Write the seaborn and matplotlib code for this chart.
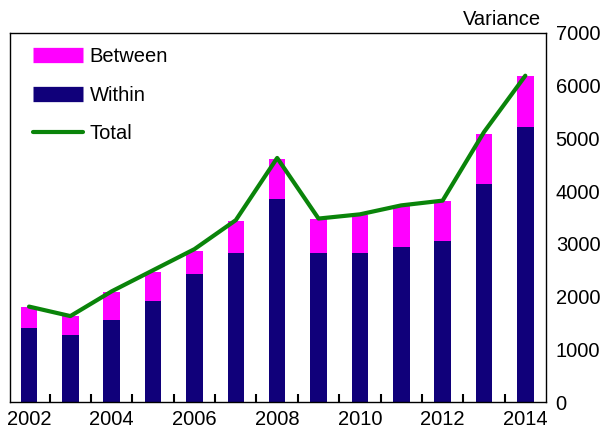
import numpy as np
import pandas as pd
import matplotlib
matplotlib.use("Agg")
import matplotlib.pyplot as plt
from matplotlib.lines import Line2D
import seaborn as sns

# Data
years = [2002, 2003, 2004, 2005, 2006, 2007, 2008, 2009, 2010, 2011, 2012, 2013, 2014]
within = [1410, 1270, 1560, 1920, 2430, 2830, 3850, 2830, 2830, 2940, 3050, 4130, 5220]
between = [390, 360, 520, 550, 440, 600, 760, 640, 720, 780, 760, 950, 970]
total = [1810, 1630, 2100, 2500, 2900, 3450, 4630, 3480, 3560, 3730, 3820, 5120, 6190]
year_labels = ["2002", "", "2004", "", "2006", "", "2008", "", "2010", "", "2012", "", "2014"]

col_between = "#FF00FF"
col_within = "#10007A"
col_total = "#0A840A"

df = pd.DataFrame({"year": years, "within": within, "between": between, "total": total})
df["stack"] = df["within"] + df["between"]
df["pos"] = np.arange(len(df))

sns.set_style("ticks")
plt.rcParams["font.family"] = ["Liberation Sans", "DejaVu Sans"]
plt.rcParams["text.color"] = "black"
plt.rcParams["xtick.color"] = "black"
plt.rcParams["ytick.color"] = "black"
plt.rcParams["axes.axisbelow"] = False
fs = 14.5

fig = plt.figure(figsize=(6.14, 4.36), dpi=100)
ax = fig.add_axes([10 / 614, 34 / 436, 536 / 614, 369 / 436])

# stacked bars: full stack in magenta, within drawn over it
sns.barplot(data=df, x="pos", y="stack", color=col_between, width=0.4,
            saturation=1, native_scale=True, linewidth=0, ax=ax)
sns.barplot(data=df, x="pos", y="within", color=col_within, width=0.4,
            saturation=1, native_scale=True, linewidth=0, ax=ax)
sns.lineplot(data=df, x="pos", y="total", color=col_total, linewidth=3, ax=ax)

ax.set_xlim(-0.46, 12.5)
ax.set_ylim(0, 7000)
ax.set_xlabel("")
ax.set_ylabel("")
ax.set_axisbelow(False)

# x axis: tick marks between bars (major), year labels under bars (minor)
ax.set_xticks(np.arange(0.5, 12, 1))
ax.set_xticklabels([])
ax.set_xticks(df["pos"], minor=True)
ax.set_xticklabels(year_labels, minor=True)
ax.tick_params(axis="x", which="major", bottom=True, direction="in", length=6,
               width=1.5, color="black")
ax.tick_params(axis="x", which="minor", bottom=True, length=0, pad=6, labelsize=fs)

# y axis on the right
ax.yaxis.tick_right()
ax.set_yticks(range(0, 7001, 1000))
ax.tick_params(axis="y", length=0, pad=7, labelsize=fs)
for lab in ax.get_yticklabels():
    lab.set_horizontalalignment("left")

for s in ax.spines.values():
    s.set_visible(True)
    s.set_color("black")
    s.set_linewidth(1)

ax.text(0.99, 1.012, "Variance", transform=ax.transAxes, ha="right", va="bottom",
        fontsize=fs)

handles = [
    Line2D([], [], color=col_between, linewidth=11, solid_capstyle="butt"),
    Line2D([], [], color=col_within, linewidth=11, solid_capstyle="butt"),
    Line2D([], [], color=col_total, linewidth=3),
]
ax.legend(handles, ["Between", "Within", "Total"], loc="upper left",
          bbox_to_anchor=(0.043, 0.962), frameon=False, fontsize=fs,
          handlelength=2.5, handletextpad=0.3, labelspacing=0.98, borderaxespad=0,
          borderpad=0)

fig.savefig("out.png", dpi=100)
